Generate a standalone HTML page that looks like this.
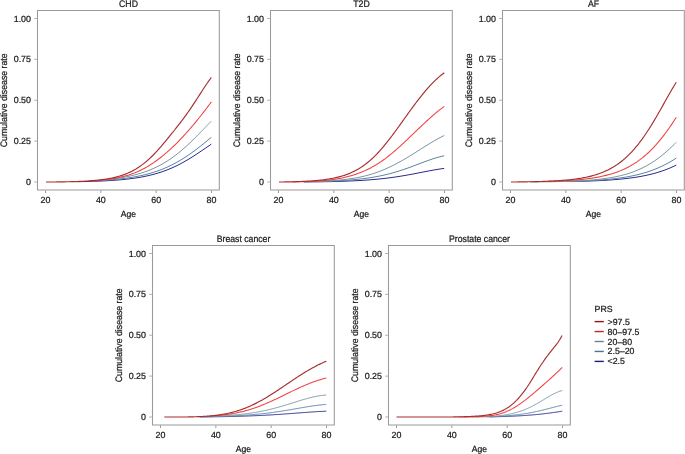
<!DOCTYPE html><html><head><meta charset="utf-8"><style>html,body{margin:0;padding:0;background:#fff;}body{width:685px;height:454px;overflow:hidden;}svg{display:block;will-change:transform;}text{font-family:"Liberation Sans",sans-serif;text-rendering:geometricPrecision;stroke:#1a1a1a;stroke-width:0.22px;}</style></head><body>
<svg width="685" height="454" viewBox="0 0 685 454">
<polyline fill="none" stroke="#2a2a8e" stroke-width="1.0" stroke-linejoin="round" stroke-linecap="butt" points="76.00,181.73 77.00,181.72 78.00,181.70 79.00,181.68 80.00,181.66 81.00,181.64 82.00,181.62 83.00,181.60 84.00,181.57 85.00,181.55 86.00,181.52 87.00,181.50 88.00,181.47 89.00,181.44 90.00,181.42 91.00,181.39 92.00,181.36 93.00,181.32 94.00,181.29 95.00,181.26 96.00,181.22 97.00,181.18 98.00,181.14 99.00,181.10 100.00,181.06 101.00,181.02 102.00,180.97 103.00,180.93 104.00,180.88 105.00,180.83 106.00,180.78 107.00,180.72 108.00,180.67 109.00,180.61 110.00,180.55 111.00,180.49 112.00,180.42 113.00,180.36 114.00,180.29 115.00,180.22 116.00,180.14 117.00,180.06 118.00,179.98 119.00,179.90 120.00,179.82 121.00,179.73 122.00,179.63 123.00,179.54 124.00,179.44 125.00,179.34 126.00,179.23 127.00,179.12 128.00,179.01 129.00,178.89 130.00,178.77 131.00,178.64 132.00,178.51 133.00,178.37 134.00,178.23 135.00,178.09 136.00,177.94 137.00,177.78 138.00,177.62 139.00,177.46 140.00,177.29 141.00,177.11 142.00,176.92 143.00,176.74 144.00,176.54 145.00,176.34 146.00,176.13 147.00,175.91 148.00,175.69 149.00,175.46 150.00,175.23 151.00,174.98 152.00,174.73 153.00,174.47 154.00,174.21 155.00,173.93 156.00,173.65 157.00,173.36 158.00,173.06 159.00,172.75 160.00,172.43 161.00,172.10 162.00,171.77 163.00,171.42 164.00,171.07 165.00,170.70 166.00,170.33 167.00,169.95 168.00,169.55 169.00,169.15 170.00,168.74 171.00,168.31 172.00,167.88 173.00,167.43 174.00,166.98 175.00,166.52 176.00,166.04 177.00,165.56 178.00,165.06 179.00,164.55 180.00,164.04 181.00,163.51 182.00,162.98 183.00,162.43 184.00,161.88 185.00,161.31 186.00,160.74 187.00,160.15 188.00,159.56 189.00,158.96 190.00,158.35 191.00,157.73 192.00,157.11 193.00,156.47 194.00,155.83 195.00,155.19 196.00,154.53 197.00,153.87 198.00,153.21 199.00,152.54 200.00,151.87 201.00,151.19 202.00,150.51 203.00,149.83 204.00,149.15 205.00,148.47 206.00,147.78 207.00,147.10 208.00,146.42 209.00,145.74 210.00,145.07 211.00,144.40 211.30,144.19"/>
<polyline fill="none" stroke="#5a84a2" stroke-width="1.0" stroke-linejoin="round" stroke-linecap="butt" points="92.00,181.01 93.00,180.96 94.00,180.92 95.00,180.87 96.00,180.82 97.00,180.77 98.00,180.72 99.00,180.66 100.00,180.61 101.00,180.55 102.00,180.49 103.00,180.43 104.00,180.36 105.00,180.29 106.00,180.23 107.00,180.15 108.00,180.08 109.00,180.00 110.00,179.92 111.00,179.84 112.00,179.76 113.00,179.67 114.00,179.58 115.00,179.49 116.00,179.39 117.00,179.29 118.00,179.19 119.00,179.08 120.00,178.97 121.00,178.86 122.00,178.74 123.00,178.62 124.00,178.49 125.00,178.36 126.00,178.23 127.00,178.09 128.00,177.94 129.00,177.80 130.00,177.64 131.00,177.49 132.00,177.32 133.00,177.15 134.00,176.98 135.00,176.80 136.00,176.62 137.00,176.43 138.00,176.23 139.00,176.03 140.00,175.82 141.00,175.60 142.00,175.38 143.00,175.15 144.00,174.92 145.00,174.68 146.00,174.43 147.00,174.17 148.00,173.90 149.00,173.63 150.00,173.35 151.00,173.06 152.00,172.76 153.00,172.46 154.00,172.14 155.00,171.82 156.00,171.49 157.00,171.15 158.00,170.80 159.00,170.44 160.00,170.07 161.00,169.69 162.00,169.30 163.00,168.90 164.00,168.49 165.00,168.07 166.00,167.64 167.00,167.20 168.00,166.74 169.00,166.28 170.00,165.81 171.00,165.32 172.00,164.83 173.00,164.32 174.00,163.80 175.00,163.27 176.00,162.73 177.00,162.18 178.00,161.62 179.00,161.04 180.00,160.46 181.00,159.86 182.00,159.25 183.00,158.63 184.00,158.00 185.00,157.36 186.00,156.70 187.00,156.04 188.00,155.36 189.00,154.68 190.00,153.98 191.00,153.27 192.00,152.56 193.00,151.83 194.00,151.10 195.00,150.35 196.00,149.60 197.00,148.84 198.00,148.07 199.00,147.29 200.00,146.51 201.00,145.72 202.00,144.92 203.00,144.12 204.00,143.31 205.00,142.49 206.00,141.68 207.00,140.86 208.00,140.03 209.00,139.21 210.00,138.38 211.00,137.55 211.30,137.30"/>
<polyline fill="none" stroke="#7a97a3" stroke-width="1.0" stroke-linejoin="round" stroke-linecap="butt" points="110.00,179.24 111.00,179.13 112.00,179.01 113.00,178.89 114.00,178.77 115.00,178.64 116.00,178.50 117.00,178.36 118.00,178.22 119.00,178.07 120.00,177.92 121.00,177.76 122.00,177.59 123.00,177.42 124.00,177.24 125.00,177.06 126.00,176.87 127.00,176.68 128.00,176.48 129.00,176.27 130.00,176.05 131.00,175.83 132.00,175.60 133.00,175.36 134.00,175.12 135.00,174.86 136.00,174.60 137.00,174.33 138.00,174.05 139.00,173.76 140.00,173.46 141.00,173.16 142.00,172.84 143.00,172.52 144.00,172.18 145.00,171.83 146.00,171.48 147.00,171.11 148.00,170.73 149.00,170.34 150.00,169.94 151.00,169.53 152.00,169.10 153.00,168.67 154.00,168.22 155.00,167.76 156.00,167.28 157.00,166.80 158.00,166.30 159.00,165.78 160.00,165.26 161.00,164.71 162.00,164.16 163.00,163.59 164.00,163.01 165.00,162.41 166.00,161.80 167.00,161.18 168.00,160.53 169.00,159.88 170.00,159.21 171.00,158.53 172.00,157.83 173.00,157.11 174.00,156.38 175.00,155.64 176.00,154.88 177.00,154.11 178.00,153.32 179.00,152.52 180.00,151.70 181.00,150.87 182.00,150.02 183.00,149.16 184.00,148.29 185.00,147.41 186.00,146.51 187.00,145.60 188.00,144.67 189.00,143.74 190.00,142.79 191.00,141.83 192.00,140.87 193.00,139.89 194.00,138.90 195.00,137.90 196.00,136.90 197.00,135.89 198.00,134.87 199.00,133.85 200.00,132.82 201.00,131.79 202.00,130.75 203.00,129.71 204.00,128.67 205.00,127.63 206.00,126.59 207.00,125.55 208.00,124.51 209.00,123.48 210.00,122.45 211.00,121.43 211.30,121.12"/>
<polyline fill="none" stroke="#f04040" stroke-width="1.05" stroke-linejoin="round" stroke-linecap="butt" points="89.00,181.05 90.00,181.00 91.00,180.94 92.00,180.88 93.00,180.81 94.00,180.74 95.00,180.67 96.00,180.60 97.00,180.52 98.00,180.44 99.00,180.35 100.00,180.26 101.00,180.17 102.00,180.07 103.00,179.96 104.00,179.86 105.00,179.74 106.00,179.62 107.00,179.50 108.00,179.37 109.00,179.24 110.00,179.10 111.00,178.95 112.00,178.79 113.00,178.63 114.00,178.46 115.00,178.29 116.00,178.11 117.00,177.91 118.00,177.71 119.00,177.51 120.00,177.29 121.00,177.06 122.00,176.83 123.00,176.58 124.00,176.32 125.00,176.06 126.00,175.78 127.00,175.49 128.00,175.19 129.00,174.88 130.00,174.55 131.00,174.22 132.00,173.87 133.00,173.50 134.00,173.13 135.00,172.74 136.00,172.33 137.00,171.91 138.00,171.48 139.00,171.03 140.00,170.57 141.00,170.09 142.00,169.59 143.00,169.08 144.00,168.56 145.00,168.02 146.00,167.46 147.00,166.88 148.00,166.30 149.00,165.69 150.00,165.07 151.00,164.43 152.00,163.78 153.00,163.11 154.00,162.42 155.00,161.72 156.00,161.01 157.00,160.28 158.00,159.54 159.00,158.78 160.00,158.01 161.00,157.22 162.00,156.42 163.00,155.61 164.00,154.78 165.00,153.94 166.00,153.08 167.00,152.21 168.00,151.33 169.00,150.43 170.00,149.52 171.00,148.60 172.00,147.67 173.00,146.72 174.00,145.75 175.00,144.78 176.00,143.79 177.00,142.79 178.00,141.78 179.00,140.76 180.00,139.72 181.00,138.68 182.00,137.62 183.00,136.55 184.00,135.47 185.00,134.38 186.00,133.27 187.00,132.16 188.00,131.03 189.00,129.90 190.00,128.75 191.00,127.60 192.00,126.43 193.00,125.25 194.00,124.07 195.00,122.87 196.00,121.66 197.00,120.44 198.00,119.22 199.00,117.98 200.00,116.73 201.00,115.47 202.00,114.21 203.00,112.93 204.00,111.64 205.00,110.34 206.00,109.04 207.00,107.72 208.00,106.39 209.00,105.05 210.00,103.70 211.00,102.34 211.30,101.93"/>
<polyline fill="none" stroke="#a82e2e" stroke-width="1.15" stroke-linejoin="round" stroke-linecap="butt" points="46.00,182.00 47.00,182.00 48.00,182.00 49.00,182.00 50.00,182.00 51.00,181.99 52.00,181.99 53.00,181.98 54.00,181.97 55.00,181.96 56.00,181.95 57.00,181.94 58.00,181.93 59.00,181.92 60.00,181.90 61.00,181.89 62.00,181.87 63.00,181.86 64.00,181.84 65.00,181.82 66.00,181.80 67.00,181.78 68.00,181.76 69.00,181.74 70.00,181.71 71.00,181.69 72.00,181.66 73.00,181.63 74.00,181.60 75.00,181.57 76.00,181.54 77.00,181.50 78.00,181.47 79.00,181.43 80.00,181.39 81.00,181.34 82.00,181.30 83.00,181.25 84.00,181.20 85.00,181.15 86.00,181.09 87.00,181.03 88.00,180.97 89.00,180.91 90.00,180.84 91.00,180.77 92.00,180.69 93.00,180.61 94.00,180.53 95.00,180.44 96.00,180.35 97.00,180.25 98.00,180.14 99.00,180.04 100.00,179.92 101.00,179.80 102.00,179.68 103.00,179.55 104.00,179.41 105.00,179.26 106.00,179.11 107.00,178.95 108.00,178.78 109.00,178.60 110.00,178.42 111.00,178.22 112.00,178.02 113.00,177.80 114.00,177.58 115.00,177.34 116.00,177.09 117.00,176.83 118.00,176.56 119.00,176.27 120.00,175.97 121.00,175.66 122.00,175.33 123.00,174.99 124.00,174.63 125.00,174.26 126.00,173.87 127.00,173.46 128.00,173.04 129.00,172.59 130.00,172.13 131.00,171.65 132.00,171.15 133.00,170.62 134.00,170.08 135.00,169.51 136.00,168.93 137.00,168.32 138.00,167.68 139.00,167.03 140.00,166.35 141.00,165.64 142.00,164.91 143.00,164.16 144.00,163.38 145.00,162.58 146.00,161.75 147.00,160.90 148.00,160.02 149.00,159.12 150.00,158.19 151.00,157.24 152.00,156.26 153.00,155.26 154.00,154.24 155.00,153.20 156.00,152.13 157.00,151.04 158.00,149.94 159.00,148.82 160.00,147.68 161.00,146.52 162.00,145.35 163.00,144.17 164.00,142.98 165.00,141.78 166.00,140.58 167.00,139.37 168.00,138.15 169.00,136.93 170.00,135.70 171.00,134.47 172.00,133.23 173.00,131.99 174.00,130.74 175.00,129.49 176.00,128.23 177.00,126.96 178.00,125.68 179.00,124.40 180.00,123.11 181.00,121.80 182.00,120.49 183.00,119.16 184.00,117.82 185.00,116.46 186.00,115.08 187.00,113.69 188.00,112.27 189.00,110.83 190.00,109.37 191.00,107.90 192.00,106.41 193.00,104.90 194.00,103.39 195.00,101.86 196.00,100.32 197.00,98.77 198.00,97.22 199.00,95.67 200.00,94.12 201.00,92.57 202.00,91.03 203.00,89.49 204.00,87.96 205.00,86.45 206.00,84.96 207.00,83.49 208.00,82.04 209.00,80.63 210.00,79.24 211.00,77.89 211.30,77.49"/>
<path d="M37.5,10.5H219.3V190H37.5Z" fill="none" stroke="#9a9a9a" stroke-width="1.05"/>
<line x1="45.50" y1="190.5" x2="45.50" y2="193" stroke="#8c8c8c" stroke-width="0.9"/>
<text x="45.50" y="202.7" font-size="8.9" text-anchor="middle" fill="#1a1a1a">20</text>
<line x1="100.83" y1="190.5" x2="100.83" y2="193" stroke="#8c8c8c" stroke-width="0.9"/>
<text x="100.83" y="202.7" font-size="8.9" text-anchor="middle" fill="#1a1a1a">40</text>
<line x1="156.17" y1="190.5" x2="156.17" y2="193" stroke="#8c8c8c" stroke-width="0.9"/>
<text x="156.17" y="202.7" font-size="8.9" text-anchor="middle" fill="#1a1a1a">60</text>
<line x1="211.50" y1="190.5" x2="211.50" y2="193" stroke="#8c8c8c" stroke-width="0.9"/>
<text x="211.50" y="202.7" font-size="8.9" text-anchor="middle" fill="#1a1a1a">80</text>
<line x1="34.2" y1="182.00" x2="37.5" y2="182.00" stroke="#a8a8a8" stroke-width="0.9"/>
<text x="31" y="185.00" font-size="8.9" text-anchor="end" fill="#1a1a1a">0</text>
<line x1="34.2" y1="141.12" x2="37.5" y2="141.12" stroke="#a8a8a8" stroke-width="0.9"/>
<text x="31" y="144.12" font-size="8.9" text-anchor="end" fill="#1a1a1a">0.25</text>
<line x1="34.2" y1="100.25" x2="37.5" y2="100.25" stroke="#a8a8a8" stroke-width="0.9"/>
<text x="31" y="103.25" font-size="8.9" text-anchor="end" fill="#1a1a1a">0.50</text>
<line x1="34.2" y1="59.38" x2="37.5" y2="59.38" stroke="#a8a8a8" stroke-width="0.9"/>
<text x="31" y="62.38" font-size="8.9" text-anchor="end" fill="#1a1a1a">0.75</text>
<line x1="34.2" y1="18.50" x2="37.5" y2="18.50" stroke="#a8a8a8" stroke-width="0.9"/>
<text x="31" y="21.50" font-size="8.9" text-anchor="end" fill="#1a1a1a">1.00</text>
<text transform="translate(128.50,6.7) scale(1,1.1)" x="0" y="0" font-size="8.7" text-anchor="middle" fill="#1a1a1a">CHD</text>
<text transform="translate(128.50,216.5) scale(1,1.04)" x="0" y="0" font-size="8.6" text-anchor="middle" fill="#1a1a1a">Age</text>
<text transform="translate(6.80,100.30) rotate(-90) scale(1,1.08)" x="0" y="0" font-size="8.75" text-anchor="middle" fill="#1a1a1a">Cumulative disease rate</text>
<polyline fill="none" stroke="#2a2a8e" stroke-width="1.0" stroke-linejoin="round" stroke-linecap="butt" points="304.00,181.95 305.00,181.94 306.00,181.94 307.00,181.93 308.00,181.92 309.00,181.91 310.00,181.90 311.00,181.89 312.00,181.88 313.00,181.87 314.00,181.86 315.00,181.85 316.00,181.84 317.00,181.82 318.00,181.81 319.00,181.80 320.00,181.78 321.00,181.77 322.00,181.75 323.00,181.74 324.00,181.72 325.00,181.70 326.00,181.69 327.00,181.67 328.00,181.65 329.00,181.63 330.00,181.61 331.00,181.59 332.00,181.56 333.00,181.54 334.00,181.52 335.00,181.49 336.00,181.47 337.00,181.44 338.00,181.41 339.00,181.38 340.00,181.35 341.00,181.32 342.00,181.29 343.00,181.26 344.00,181.22 345.00,181.19 346.00,181.15 347.00,181.11 348.00,181.08 349.00,181.04 350.00,180.99 351.00,180.95 352.00,180.91 353.00,180.86 354.00,180.81 355.00,180.76 356.00,180.71 357.00,180.66 358.00,180.61 359.00,180.55 360.00,180.50 361.00,180.44 362.00,180.38 363.00,180.31 364.00,180.25 365.00,180.18 366.00,180.11 367.00,180.04 368.00,179.97 369.00,179.89 370.00,179.82 371.00,179.74 372.00,179.66 373.00,179.57 374.00,179.49 375.00,179.40 376.00,179.31 377.00,179.21 378.00,179.11 379.00,179.02 380.00,178.91 381.00,178.81 382.00,178.70 383.00,178.59 384.00,178.48 385.00,178.36 386.00,178.25 387.00,178.12 388.00,178.00 389.00,177.87 390.00,177.74 391.00,177.61 392.00,177.48 393.00,177.34 394.00,177.20 395.00,177.05 396.00,176.90 397.00,176.75 398.00,176.60 399.00,176.44 400.00,176.29 401.00,176.12 402.00,175.96 403.00,175.79 404.00,175.62 405.00,175.45 406.00,175.28 407.00,175.10 408.00,174.92 409.00,174.74 410.00,174.56 411.00,174.37 412.00,174.18 413.00,174.00 414.00,173.81 415.00,173.61 416.00,173.42 417.00,173.23 418.00,173.03 419.00,172.84 420.00,172.64 421.00,172.44 422.00,172.25 423.00,172.05 424.00,171.86 425.00,171.66 426.00,171.47 427.00,171.27 428.00,171.08 429.00,170.89 430.00,170.70 431.00,170.51 432.00,170.33 433.00,170.15 434.00,169.97 435.00,169.80 436.00,169.63 437.00,169.46 438.00,169.30 439.00,169.14 440.00,168.99 441.00,168.84 442.00,168.70 443.00,168.56 444.00,168.43 444.20,168.40"/>
<polyline fill="none" stroke="#5a84a2" stroke-width="1.0" stroke-linejoin="round" stroke-linecap="butt" points="315.00,181.61 316.00,181.59 317.00,181.56 318.00,181.54 319.00,181.51 320.00,181.49 321.00,181.46 322.00,181.43 323.00,181.40 324.00,181.37 325.00,181.34 326.00,181.30 327.00,181.27 328.00,181.23 329.00,181.20 330.00,181.16 331.00,181.12 332.00,181.08 333.00,181.03 334.00,180.99 335.00,180.94 336.00,180.89 337.00,180.84 338.00,180.79 339.00,180.74 340.00,180.68 341.00,180.63 342.00,180.57 343.00,180.50 344.00,180.44 345.00,180.37 346.00,180.31 347.00,180.23 348.00,180.16 349.00,180.08 350.00,180.01 351.00,179.92 352.00,179.84 353.00,179.75 354.00,179.66 355.00,179.57 356.00,179.47 357.00,179.37 358.00,179.27 359.00,179.16 360.00,179.05 361.00,178.93 362.00,178.82 363.00,178.70 364.00,178.57 365.00,178.44 366.00,178.31 367.00,178.17 368.00,178.02 369.00,177.88 370.00,177.73 371.00,177.57 372.00,177.41 373.00,177.24 374.00,177.07 375.00,176.90 376.00,176.71 377.00,176.53 378.00,176.34 379.00,176.14 380.00,175.94 381.00,175.73 382.00,175.52 383.00,175.30 384.00,175.07 385.00,174.84 386.00,174.61 387.00,174.36 388.00,174.12 389.00,173.86 390.00,173.60 391.00,173.34 392.00,173.07 393.00,172.79 394.00,172.51 395.00,172.22 396.00,171.92 397.00,171.62 398.00,171.32 399.00,171.00 400.00,170.69 401.00,170.36 402.00,170.04 403.00,169.70 404.00,169.37 405.00,169.02 406.00,168.68 407.00,168.33 408.00,167.97 409.00,167.61 410.00,167.25 411.00,166.88 412.00,166.51 413.00,166.14 414.00,165.77 415.00,165.39 416.00,165.02 417.00,164.64 418.00,164.26 419.00,163.88 420.00,163.50 421.00,163.12 422.00,162.74 423.00,162.36 424.00,161.99 425.00,161.62 426.00,161.25 427.00,160.88 428.00,160.52 429.00,160.17 430.00,159.82 431.00,159.48 432.00,159.14 433.00,158.81 434.00,158.49 435.00,158.17 436.00,157.87 437.00,157.58 438.00,157.29 439.00,157.02 440.00,156.76 441.00,156.51 442.00,156.28 443.00,156.06 444.00,155.85 444.20,155.81"/>
<polyline fill="none" stroke="#7a97a3" stroke-width="1.0" stroke-linejoin="round" stroke-linecap="butt" points="308.00,181.67 309.00,181.65 310.00,181.62 311.00,181.60 312.00,181.57 313.00,181.54 314.00,181.51 315.00,181.48 316.00,181.44 317.00,181.41 318.00,181.37 319.00,181.33 320.00,181.29 321.00,181.25 322.00,181.21 323.00,181.16 324.00,181.12 325.00,181.07 326.00,181.01 327.00,180.96 328.00,180.90 329.00,180.85 330.00,180.78 331.00,180.72 332.00,180.65 333.00,180.58 334.00,180.51 335.00,180.43 336.00,180.35 337.00,180.27 338.00,180.19 339.00,180.10 340.00,180.00 341.00,179.90 342.00,179.80 343.00,179.70 344.00,179.59 345.00,179.47 346.00,179.35 347.00,179.23 348.00,179.10 349.00,178.96 350.00,178.82 351.00,178.68 352.00,178.52 353.00,178.37 354.00,178.20 355.00,178.03 356.00,177.86 357.00,177.67 358.00,177.48 359.00,177.29 360.00,177.08 361.00,176.87 362.00,176.65 363.00,176.42 364.00,176.19 365.00,175.94 366.00,175.69 367.00,175.43 368.00,175.16 369.00,174.88 370.00,174.60 371.00,174.30 372.00,174.00 373.00,173.68 374.00,173.36 375.00,173.03 376.00,172.68 377.00,172.33 378.00,171.97 379.00,171.60 380.00,171.22 381.00,170.83 382.00,170.43 383.00,170.02 384.00,169.60 385.00,169.17 386.00,168.73 387.00,168.29 388.00,167.83 389.00,167.37 390.00,166.90 391.00,166.42 392.00,165.93 393.00,165.43 394.00,164.93 395.00,164.41 396.00,163.89 397.00,163.36 398.00,162.82 399.00,162.28 400.00,161.73 401.00,161.17 402.00,160.60 403.00,160.03 404.00,159.45 405.00,158.86 406.00,158.27 407.00,157.68 408.00,157.08 409.00,156.47 410.00,155.86 411.00,155.24 412.00,154.63 413.00,154.00 414.00,153.38 415.00,152.75 416.00,152.12 417.00,151.49 418.00,150.86 419.00,150.23 420.00,149.59 421.00,148.96 422.00,148.33 423.00,147.70 424.00,147.07 425.00,146.44 426.00,145.81 427.00,145.19 428.00,144.57 429.00,143.96 430.00,143.35 431.00,142.75 432.00,142.15 433.00,141.56 434.00,140.97 435.00,140.39 436.00,139.83 437.00,139.26 438.00,138.71 439.00,138.17 440.00,137.64 441.00,137.12 442.00,136.61 443.00,136.11 444.00,135.62 444.20,135.53"/>
<polyline fill="none" stroke="#f04040" stroke-width="1.05" stroke-linejoin="round" stroke-linecap="butt" points="292.00,181.92 293.00,181.90 294.00,181.89 295.00,181.87 296.00,181.85 297.00,181.84 298.00,181.82 299.00,181.79 300.00,181.77 301.00,181.75 302.00,181.72 303.00,181.69 304.00,181.66 305.00,181.63 306.00,181.60 307.00,181.57 308.00,181.53 309.00,181.49 310.00,181.45 311.00,181.40 312.00,181.36 313.00,181.31 314.00,181.26 315.00,181.20 316.00,181.15 317.00,181.09 318.00,181.02 319.00,180.95 320.00,180.88 321.00,180.81 322.00,180.73 323.00,180.65 324.00,180.56 325.00,180.47 326.00,180.37 327.00,180.27 328.00,180.16 329.00,180.05 330.00,179.93 331.00,179.81 332.00,179.68 333.00,179.54 334.00,179.40 335.00,179.25 336.00,179.09 337.00,178.93 338.00,178.76 339.00,178.58 340.00,178.40 341.00,178.20 342.00,178.00 343.00,177.79 344.00,177.57 345.00,177.34 346.00,177.11 347.00,176.86 348.00,176.60 349.00,176.34 350.00,176.06 351.00,175.78 352.00,175.48 353.00,175.17 354.00,174.86 355.00,174.53 356.00,174.19 357.00,173.84 358.00,173.48 359.00,173.10 360.00,172.72 361.00,172.32 362.00,171.91 363.00,171.49 364.00,171.06 365.00,170.61 366.00,170.16 367.00,169.69 368.00,169.20 369.00,168.70 370.00,168.19 371.00,167.67 372.00,167.13 373.00,166.58 374.00,166.01 375.00,165.43 376.00,164.84 377.00,164.23 378.00,163.60 379.00,162.97 380.00,162.31 381.00,161.64 382.00,160.96 383.00,160.26 384.00,159.55 385.00,158.82 386.00,158.07 387.00,157.31 388.00,156.53 389.00,155.74 390.00,154.94 391.00,154.12 392.00,153.29 393.00,152.45 394.00,151.60 395.00,150.74 396.00,149.86 397.00,148.98 398.00,148.09 399.00,147.19 400.00,146.29 401.00,145.37 402.00,144.45 403.00,143.52 404.00,142.59 405.00,141.65 406.00,140.71 407.00,139.76 408.00,138.81 409.00,137.86 410.00,136.90 411.00,135.94 412.00,134.98 413.00,134.02 414.00,133.05 415.00,132.09 416.00,131.13 417.00,130.17 418.00,129.21 419.00,128.25 420.00,127.30 421.00,126.35 422.00,125.40 423.00,124.46 424.00,123.52 425.00,122.59 426.00,121.66 427.00,120.74 428.00,119.83 429.00,118.93 430.00,118.03 431.00,117.14 432.00,116.26 433.00,115.39 434.00,114.53 435.00,113.68 436.00,112.84 437.00,112.01 438.00,111.20 439.00,110.39 440.00,109.60 441.00,108.82 442.00,108.05 443.00,107.30 444.00,106.55 444.20,106.41"/>
<polyline fill="none" stroke="#a82e2e" stroke-width="1.15" stroke-linejoin="round" stroke-linecap="butt" points="279.00,182.00 280.00,182.00 281.00,182.00 282.00,181.99 283.00,181.97 284.00,181.96 285.00,181.94 286.00,181.92 287.00,181.90 288.00,181.88 289.00,181.86 290.00,181.83 291.00,181.81 292.00,181.78 293.00,181.75 294.00,181.73 295.00,181.70 296.00,181.66 297.00,181.63 298.00,181.60 299.00,181.56 300.00,181.52 301.00,181.48 302.00,181.44 303.00,181.39 304.00,181.35 305.00,181.30 306.00,181.25 307.00,181.19 308.00,181.14 309.00,181.08 310.00,181.01 311.00,180.95 312.00,180.88 313.00,180.80 314.00,180.73 315.00,180.65 316.00,180.56 317.00,180.47 318.00,180.38 319.00,180.28 320.00,180.18 321.00,180.07 322.00,179.96 323.00,179.84 324.00,179.71 325.00,179.58 326.00,179.44 327.00,179.30 328.00,179.15 329.00,178.99 330.00,178.82 331.00,178.64 332.00,178.46 333.00,178.27 334.00,178.06 335.00,177.85 336.00,177.63 337.00,177.40 338.00,177.15 339.00,176.90 340.00,176.63 341.00,176.35 342.00,176.06 343.00,175.76 344.00,175.44 345.00,175.10 346.00,174.75 347.00,174.39 348.00,174.01 349.00,173.61 350.00,173.20 351.00,172.77 352.00,172.32 353.00,171.85 354.00,171.36 355.00,170.86 356.00,170.33 357.00,169.78 358.00,169.21 359.00,168.62 360.00,168.01 361.00,167.37 362.00,166.71 363.00,166.03 364.00,165.32 365.00,164.59 366.00,163.83 367.00,163.05 368.00,162.24 369.00,161.40 370.00,160.54 371.00,159.66 372.00,158.75 373.00,157.81 374.00,156.85 375.00,155.86 376.00,154.85 377.00,153.81 378.00,152.75 379.00,151.66 380.00,150.55 381.00,149.42 382.00,148.27 383.00,147.09 384.00,145.90 385.00,144.69 386.00,143.46 387.00,142.21 388.00,140.95 389.00,139.67 390.00,138.38 391.00,137.07 392.00,135.75 393.00,134.42 394.00,133.08 395.00,131.73 396.00,130.36 397.00,128.99 398.00,127.62 399.00,126.24 400.00,124.85 401.00,123.45 402.00,122.06 403.00,120.66 404.00,119.26 405.00,117.86 406.00,116.46 407.00,115.07 408.00,113.67 409.00,112.28 410.00,110.90 411.00,109.52 412.00,108.15 413.00,106.79 414.00,105.43 415.00,104.09 416.00,102.75 417.00,101.43 418.00,100.12 419.00,98.83 420.00,97.55 421.00,96.28 422.00,95.03 423.00,93.80 424.00,92.59 425.00,91.39 426.00,90.21 427.00,89.06 428.00,87.92 429.00,86.81 430.00,85.71 431.00,84.64 432.00,83.59 433.00,82.57 434.00,81.57 435.00,80.59 436.00,79.64 437.00,78.71 438.00,77.81 439.00,76.93 440.00,76.08 441.00,75.25 442.00,74.45 443.00,73.68 444.00,72.93 444.30,72.71"/>
<path d="M270.5,10.5H452.3V190H270.5Z" fill="none" stroke="#9a9a9a" stroke-width="1.05"/>
<line x1="278.50" y1="190.5" x2="278.50" y2="193" stroke="#8c8c8c" stroke-width="0.9"/>
<text x="278.50" y="202.7" font-size="8.9" text-anchor="middle" fill="#1a1a1a">20</text>
<line x1="333.83" y1="190.5" x2="333.83" y2="193" stroke="#8c8c8c" stroke-width="0.9"/>
<text x="333.83" y="202.7" font-size="8.9" text-anchor="middle" fill="#1a1a1a">40</text>
<line x1="389.17" y1="190.5" x2="389.17" y2="193" stroke="#8c8c8c" stroke-width="0.9"/>
<text x="389.17" y="202.7" font-size="8.9" text-anchor="middle" fill="#1a1a1a">60</text>
<line x1="444.50" y1="190.5" x2="444.50" y2="193" stroke="#8c8c8c" stroke-width="0.9"/>
<text x="444.50" y="202.7" font-size="8.9" text-anchor="middle" fill="#1a1a1a">80</text>
<line x1="267.2" y1="182.00" x2="270.5" y2="182.00" stroke="#a8a8a8" stroke-width="0.9"/>
<text x="264" y="185.00" font-size="8.9" text-anchor="end" fill="#1a1a1a">0</text>
<line x1="267.2" y1="141.12" x2="270.5" y2="141.12" stroke="#a8a8a8" stroke-width="0.9"/>
<text x="264" y="144.12" font-size="8.9" text-anchor="end" fill="#1a1a1a">0.25</text>
<line x1="267.2" y1="100.25" x2="270.5" y2="100.25" stroke="#a8a8a8" stroke-width="0.9"/>
<text x="264" y="103.25" font-size="8.9" text-anchor="end" fill="#1a1a1a">0.50</text>
<line x1="267.2" y1="59.38" x2="270.5" y2="59.38" stroke="#a8a8a8" stroke-width="0.9"/>
<text x="264" y="62.38" font-size="8.9" text-anchor="end" fill="#1a1a1a">0.75</text>
<line x1="267.2" y1="18.50" x2="270.5" y2="18.50" stroke="#a8a8a8" stroke-width="0.9"/>
<text x="264" y="21.50" font-size="8.9" text-anchor="end" fill="#1a1a1a">1.00</text>
<text transform="translate(361.50,6.7) scale(1,1.1)" x="0" y="0" font-size="8.7" text-anchor="middle" fill="#1a1a1a">T2D</text>
<text transform="translate(361.50,216.5) scale(1,1.04)" x="0" y="0" font-size="8.6" text-anchor="middle" fill="#1a1a1a">Age</text>
<text transform="translate(239.80,100.30) rotate(-90) scale(1,1.08)" x="0" y="0" font-size="8.75" text-anchor="middle" fill="#1a1a1a">Cumulative disease rate</text>
<polyline fill="none" stroke="#2a2a8e" stroke-width="1.0" stroke-linejoin="round" stroke-linecap="butt" points="569.00,181.57 570.00,181.56 571.00,181.54 572.00,181.52 573.00,181.49 574.00,181.47 575.00,181.45 576.00,181.43 577.00,181.40 578.00,181.38 579.00,181.35 580.00,181.33 581.00,181.30 582.00,181.27 583.00,181.24 584.00,181.21 585.00,181.18 586.00,181.15 587.00,181.12 588.00,181.08 589.00,181.05 590.00,181.01 591.00,180.97 592.00,180.94 593.00,180.90 594.00,180.86 595.00,180.81 596.00,180.77 597.00,180.72 598.00,180.68 599.00,180.63 600.00,180.58 601.00,180.53 602.00,180.48 603.00,180.42 604.00,180.37 605.00,180.31 606.00,180.25 607.00,180.19 608.00,180.12 609.00,180.06 610.00,179.99 611.00,179.92 612.00,179.84 613.00,179.77 614.00,179.69 615.00,179.61 616.00,179.53 617.00,179.45 618.00,179.36 619.00,179.27 620.00,179.17 621.00,179.08 622.00,178.98 623.00,178.88 624.00,178.77 625.00,178.66 626.00,178.55 627.00,178.43 628.00,178.31 629.00,178.19 630.00,178.06 631.00,177.93 632.00,177.79 633.00,177.65 634.00,177.51 635.00,177.36 636.00,177.21 637.00,177.05 638.00,176.88 639.00,176.72 640.00,176.54 641.00,176.36 642.00,176.18 643.00,175.99 644.00,175.79 645.00,175.59 646.00,175.38 647.00,175.16 648.00,174.94 649.00,174.71 650.00,174.48 651.00,174.23 652.00,173.98 653.00,173.73 654.00,173.46 655.00,173.19 656.00,172.91 657.00,172.62 658.00,172.32 659.00,172.01 660.00,171.69 661.00,171.37 662.00,171.03 663.00,170.69 664.00,170.33 665.00,169.97 666.00,169.59 667.00,169.21 668.00,168.81 669.00,168.40 670.00,167.99 671.00,167.55 672.00,167.11 673.00,166.66 674.00,166.19 675.00,165.71 676.00,165.22 676.30,165.07"/>
<polyline fill="none" stroke="#5a84a2" stroke-width="1.0" stroke-linejoin="round" stroke-linecap="butt" points="565.00,181.52 566.00,181.50 567.00,181.48 568.00,181.45 569.00,181.43 570.00,181.40 571.00,181.37 572.00,181.35 573.00,181.32 574.00,181.29 575.00,181.26 576.00,181.22 577.00,181.19 578.00,181.16 579.00,181.12 580.00,181.09 581.00,181.05 582.00,181.01 583.00,180.97 584.00,180.93 585.00,180.88 586.00,180.84 587.00,180.79 588.00,180.75 589.00,180.70 590.00,180.64 591.00,180.59 592.00,180.54 593.00,180.48 594.00,180.42 595.00,180.36 596.00,180.30 597.00,180.23 598.00,180.17 599.00,180.10 600.00,180.03 601.00,179.95 602.00,179.88 603.00,179.80 604.00,179.72 605.00,179.63 606.00,179.55 607.00,179.46 608.00,179.36 609.00,179.27 610.00,179.17 611.00,179.06 612.00,178.96 613.00,178.85 614.00,178.74 615.00,178.62 616.00,178.50 617.00,178.37 618.00,178.24 619.00,178.11 620.00,177.97 621.00,177.83 622.00,177.68 623.00,177.53 624.00,177.38 625.00,177.21 626.00,177.05 627.00,176.88 628.00,176.70 629.00,176.51 630.00,176.33 631.00,176.13 632.00,175.93 633.00,175.72 634.00,175.51 635.00,175.29 636.00,175.06 637.00,174.83 638.00,174.58 639.00,174.34 640.00,174.08 641.00,173.81 642.00,173.54 643.00,173.26 644.00,172.97 645.00,172.68 646.00,172.37 647.00,172.06 648.00,171.73 649.00,171.40 650.00,171.06 651.00,170.71 652.00,170.35 653.00,169.97 654.00,169.59 655.00,169.20 656.00,168.80 657.00,168.38 658.00,167.96 659.00,167.52 660.00,167.08 661.00,166.62 662.00,166.15 663.00,165.67 664.00,165.17 665.00,164.67 666.00,164.15 667.00,163.62 668.00,163.08 669.00,162.52 670.00,161.95 671.00,161.37 672.00,160.78 673.00,160.17 674.00,159.55 675.00,158.92 676.00,158.27 676.30,158.07"/>
<polyline fill="none" stroke="#7a97a3" stroke-width="1.0" stroke-linejoin="round" stroke-linecap="butt" points="530.00,181.95 531.00,181.94 532.00,181.94 533.00,181.93 534.00,181.92 535.00,181.91 536.00,181.91 537.00,181.90 538.00,181.89 539.00,181.88 540.00,181.87 541.00,181.86 542.00,181.84 543.00,181.83 544.00,181.82 545.00,181.81 546.00,181.79 547.00,181.78 548.00,181.76 549.00,181.75 550.00,181.73 551.00,181.71 552.00,181.70 553.00,181.68 554.00,181.66 555.00,181.64 556.00,181.62 557.00,181.59 558.00,181.57 559.00,181.55 560.00,181.52 561.00,181.50 562.00,181.47 563.00,181.44 564.00,181.41 565.00,181.39 566.00,181.35 567.00,181.32 568.00,181.29 569.00,181.25 570.00,181.22 571.00,181.18 572.00,181.14 573.00,181.10 574.00,181.06 575.00,181.01 576.00,180.97 577.00,180.92 578.00,180.87 579.00,180.82 580.00,180.77 581.00,180.71 582.00,180.66 583.00,180.60 584.00,180.53 585.00,180.47 586.00,180.40 587.00,180.33 588.00,180.26 589.00,180.19 590.00,180.11 591.00,180.03 592.00,179.95 593.00,179.86 594.00,179.77 595.00,179.68 596.00,179.58 597.00,179.48 598.00,179.38 599.00,179.27 600.00,179.15 601.00,179.04 602.00,178.92 603.00,178.79 604.00,178.66 605.00,178.53 606.00,178.38 607.00,178.24 608.00,178.09 609.00,177.93 610.00,177.77 611.00,177.60 612.00,177.43 613.00,177.25 614.00,177.06 615.00,176.86 616.00,176.66 617.00,176.45 618.00,176.24 619.00,176.01 620.00,175.78 621.00,175.54 622.00,175.29 623.00,175.04 624.00,174.77 625.00,174.49 626.00,174.21 627.00,173.91 628.00,173.61 629.00,173.30 630.00,172.97 631.00,172.63 632.00,172.29 633.00,171.93 634.00,171.56 635.00,171.17 636.00,170.78 637.00,170.37 638.00,169.95 639.00,169.52 640.00,169.07 641.00,168.61 642.00,168.14 643.00,167.65 644.00,167.14 645.00,166.63 646.00,166.09 647.00,165.55 648.00,164.98 649.00,164.40 650.00,163.81 651.00,163.20 652.00,162.57 653.00,161.93 654.00,161.27 655.00,160.59 656.00,159.90 657.00,159.19 658.00,158.46 659.00,157.71 660.00,156.95 661.00,156.17 662.00,155.38 663.00,154.56 664.00,153.73 665.00,152.89 666.00,152.02 667.00,151.14 668.00,150.25 669.00,149.33 670.00,148.41 671.00,147.46 672.00,146.50 673.00,145.53 674.00,144.54 675.00,143.54 676.00,142.52 676.30,142.22"/>
<polyline fill="none" stroke="#f04040" stroke-width="1.05" stroke-linejoin="round" stroke-linecap="butt" points="544.00,181.52 545.00,181.50 546.00,181.47 547.00,181.44 548.00,181.41 549.00,181.38 550.00,181.35 551.00,181.32 552.00,181.28 553.00,181.25 554.00,181.21 555.00,181.18 556.00,181.14 557.00,181.10 558.00,181.05 559.00,181.01 560.00,180.96 561.00,180.92 562.00,180.87 563.00,180.82 564.00,180.76 565.00,180.71 566.00,180.65 567.00,180.59 568.00,180.53 569.00,180.47 570.00,180.40 571.00,180.33 572.00,180.26 573.00,180.19 574.00,180.11 575.00,180.03 576.00,179.95 577.00,179.86 578.00,179.78 579.00,179.68 580.00,179.59 581.00,179.49 582.00,179.39 583.00,179.28 584.00,179.17 585.00,179.05 586.00,178.94 587.00,178.81 588.00,178.68 589.00,178.55 590.00,178.41 591.00,178.27 592.00,178.12 593.00,177.97 594.00,177.81 595.00,177.64 596.00,177.47 597.00,177.29 598.00,177.11 599.00,176.92 600.00,176.72 601.00,176.52 602.00,176.30 603.00,176.08 604.00,175.85 605.00,175.62 606.00,175.37 607.00,175.12 608.00,174.86 609.00,174.58 610.00,174.30 611.00,174.01 612.00,173.71 613.00,173.40 614.00,173.07 615.00,172.74 616.00,172.39 617.00,172.03 618.00,171.66 619.00,171.28 620.00,170.88 621.00,170.48 622.00,170.05 623.00,169.62 624.00,169.17 625.00,168.70 626.00,168.22 627.00,167.72 628.00,167.21 629.00,166.68 630.00,166.13 631.00,165.57 632.00,164.99 633.00,164.39 634.00,163.78 635.00,163.14 636.00,162.49 637.00,161.81 638.00,161.12 639.00,160.40 640.00,159.67 641.00,158.91 642.00,158.14 643.00,157.34 644.00,156.52 645.00,155.68 646.00,154.81 647.00,153.92 648.00,153.01 649.00,152.08 650.00,151.12 651.00,150.13 652.00,149.13 653.00,148.10 654.00,147.04 655.00,145.96 656.00,144.85 657.00,143.72 658.00,142.57 659.00,141.39 660.00,140.18 661.00,138.95 662.00,137.70 663.00,136.42 664.00,135.12 665.00,133.79 666.00,132.44 667.00,131.06 668.00,129.66 669.00,128.24 670.00,126.79 671.00,125.33 672.00,123.84 673.00,122.33 674.00,120.80 675.00,119.25 676.00,117.69 676.30,117.21"/>
<polyline fill="none" stroke="#a82e2e" stroke-width="1.15" stroke-linejoin="round" stroke-linecap="butt" points="511.00,182.00 512.00,182.00 513.00,181.99 514.00,181.98 515.00,181.97 516.00,181.96 517.00,181.95 518.00,181.94 519.00,181.93 520.00,181.92 521.00,181.91 522.00,181.89 523.00,181.88 524.00,181.86 525.00,181.85 526.00,181.83 527.00,181.82 528.00,181.80 529.00,181.78 530.00,181.76 531.00,181.74 532.00,181.72 533.00,181.70 534.00,181.68 535.00,181.65 536.00,181.63 537.00,181.60 538.00,181.58 539.00,181.55 540.00,181.52 541.00,181.49 542.00,181.46 543.00,181.42 544.00,181.39 545.00,181.35 546.00,181.31 547.00,181.27 548.00,181.23 549.00,181.19 550.00,181.14 551.00,181.10 552.00,181.05 553.00,181.00 554.00,180.94 555.00,180.89 556.00,180.83 557.00,180.77 558.00,180.71 559.00,180.64 560.00,180.57 561.00,180.50 562.00,180.43 563.00,180.35 564.00,180.27 565.00,180.18 566.00,180.09 567.00,180.00 568.00,179.90 569.00,179.80 570.00,179.70 571.00,179.59 572.00,179.47 573.00,179.36 574.00,179.23 575.00,179.10 576.00,178.97 577.00,178.83 578.00,178.68 579.00,178.53 580.00,178.37 581.00,178.20 582.00,178.03 583.00,177.84 584.00,177.66 585.00,177.46 586.00,177.25 587.00,177.04 588.00,176.82 589.00,176.59 590.00,176.35 591.00,176.10 592.00,175.83 593.00,175.56 594.00,175.28 595.00,174.98 596.00,174.68 597.00,174.36 598.00,174.03 599.00,173.68 600.00,173.32 601.00,172.95 602.00,172.56 603.00,172.16 604.00,171.74 605.00,171.30 606.00,170.85 607.00,170.38 608.00,169.90 609.00,169.39 610.00,168.87 611.00,168.33 612.00,167.76 613.00,167.18 614.00,166.58 615.00,165.95 616.00,165.31 617.00,164.64 618.00,163.94 619.00,163.23 620.00,162.49 621.00,161.72 622.00,160.93 623.00,160.12 624.00,159.27 625.00,158.41 626.00,157.51 627.00,156.59 628.00,155.64 629.00,154.66 630.00,153.65 631.00,152.62 632.00,151.55 633.00,150.46 634.00,149.33 635.00,148.18 636.00,146.99 637.00,145.78 638.00,144.54 639.00,143.26 640.00,141.96 641.00,140.63 642.00,139.27 643.00,137.88 644.00,136.46 645.00,135.01 646.00,133.54 647.00,132.03 648.00,130.50 649.00,128.95 650.00,127.37 651.00,125.77 652.00,124.14 653.00,122.49 654.00,120.83 655.00,119.14 656.00,117.43 657.00,115.71 658.00,113.98 659.00,112.23 660.00,110.47 661.00,108.70 662.00,106.93 663.00,105.14 664.00,103.36 665.00,101.58 666.00,99.80 667.00,98.02 668.00,96.25 669.00,94.49 670.00,92.74 671.00,91.01 672.00,89.29 673.00,87.60 674.00,85.93 675.00,84.29 676.00,82.68 676.30,82.21"/>
<path d="M502.5,10.5H684.3V190H502.5Z" fill="none" stroke="#9a9a9a" stroke-width="1.05"/>
<line x1="510.50" y1="190.5" x2="510.50" y2="193" stroke="#8c8c8c" stroke-width="0.9"/>
<text x="510.50" y="202.7" font-size="8.9" text-anchor="middle" fill="#1a1a1a">20</text>
<line x1="565.83" y1="190.5" x2="565.83" y2="193" stroke="#8c8c8c" stroke-width="0.9"/>
<text x="565.83" y="202.7" font-size="8.9" text-anchor="middle" fill="#1a1a1a">40</text>
<line x1="621.17" y1="190.5" x2="621.17" y2="193" stroke="#8c8c8c" stroke-width="0.9"/>
<text x="621.17" y="202.7" font-size="8.9" text-anchor="middle" fill="#1a1a1a">60</text>
<line x1="676.50" y1="190.5" x2="676.50" y2="193" stroke="#8c8c8c" stroke-width="0.9"/>
<text x="676.50" y="202.7" font-size="8.9" text-anchor="middle" fill="#1a1a1a">80</text>
<line x1="499.2" y1="182.00" x2="502.5" y2="182.00" stroke="#a8a8a8" stroke-width="0.9"/>
<text x="496" y="185.00" font-size="8.9" text-anchor="end" fill="#1a1a1a">0</text>
<line x1="499.2" y1="141.12" x2="502.5" y2="141.12" stroke="#a8a8a8" stroke-width="0.9"/>
<text x="496" y="144.12" font-size="8.9" text-anchor="end" fill="#1a1a1a">0.25</text>
<line x1="499.2" y1="100.25" x2="502.5" y2="100.25" stroke="#a8a8a8" stroke-width="0.9"/>
<text x="496" y="103.25" font-size="8.9" text-anchor="end" fill="#1a1a1a">0.50</text>
<line x1="499.2" y1="59.38" x2="502.5" y2="59.38" stroke="#a8a8a8" stroke-width="0.9"/>
<text x="496" y="62.38" font-size="8.9" text-anchor="end" fill="#1a1a1a">0.75</text>
<line x1="499.2" y1="18.50" x2="502.5" y2="18.50" stroke="#a8a8a8" stroke-width="0.9"/>
<text x="496" y="21.50" font-size="8.9" text-anchor="end" fill="#1a1a1a">1.00</text>
<text transform="translate(593.50,6.7) scale(1,1.1)" x="0" y="0" font-size="8.7" text-anchor="middle" fill="#1a1a1a">AF</text>
<text transform="translate(593.50,216.5) scale(1,1.04)" x="0" y="0" font-size="8.6" text-anchor="middle" fill="#1a1a1a">Age</text>
<text transform="translate(471.80,100.30) rotate(-90) scale(1,1.08)" x="0" y="0" font-size="8.75" text-anchor="middle" fill="#1a1a1a">Cumulative disease rate</text>
<polyline fill="none" stroke="#2a2a8e" stroke-width="1.0" stroke-linejoin="round" stroke-linecap="butt" points="200.30,416.93 201.30,416.92 202.30,416.91 203.30,416.90 204.30,416.89 205.30,416.88 206.30,416.87 207.30,416.86 208.30,416.85 209.30,416.84 210.30,416.83 211.30,416.82 212.30,416.80 213.30,416.79 214.30,416.78 215.30,416.76 216.30,416.75 217.30,416.74 218.30,416.72 219.30,416.70 220.30,416.69 221.30,416.67 222.30,416.65 223.30,416.64 224.30,416.62 225.30,416.60 226.30,416.58 227.30,416.56 228.30,416.54 229.30,416.52 230.30,416.49 231.30,416.47 232.30,416.45 233.30,416.42 234.30,416.40 235.30,416.37 236.30,416.35 237.30,416.32 238.30,416.29 239.30,416.27 240.30,416.24 241.30,416.21 242.30,416.18 243.30,416.14 244.30,416.11 245.30,416.08 246.30,416.04 247.30,416.01 248.30,415.97 249.30,415.94 250.30,415.90 251.30,415.86 252.30,415.82 253.30,415.78 254.30,415.74 255.30,415.70 256.30,415.65 257.30,415.61 258.30,415.56 259.30,415.52 260.30,415.47 261.30,415.42 262.30,415.37 263.30,415.32 264.30,415.27 265.30,415.22 266.30,415.16 267.30,415.11 268.30,415.05 269.30,414.99 270.30,414.94 271.30,414.88 272.30,414.82 273.30,414.76 274.30,414.70 275.30,414.63 276.30,414.57 277.30,414.50 278.30,414.44 279.30,414.37 280.30,414.30 281.30,414.24 282.30,414.17 283.30,414.10 284.30,414.03 285.30,413.96 286.30,413.88 287.30,413.81 288.30,413.74 289.30,413.66 290.30,413.59 291.30,413.51 292.30,413.44 293.30,413.36 294.30,413.29 295.30,413.21 296.30,413.13 297.30,413.06 298.30,412.98 299.30,412.91 300.30,412.83 301.30,412.75 302.30,412.68 303.30,412.60 304.30,412.53 305.30,412.45 306.30,412.38 307.30,412.31 308.30,412.24 309.30,412.16 310.30,412.10 311.30,412.03 312.30,411.96 313.30,411.89 314.30,411.83 315.30,411.77 316.30,411.70 317.30,411.64 318.30,411.59 319.30,411.53 320.30,411.48 321.30,411.43 322.30,411.38 323.30,411.33 324.30,411.29 325.30,411.25 326.30,411.21"/>
<polyline fill="none" stroke="#5a84a2" stroke-width="1.0" stroke-linejoin="round" stroke-linecap="butt" points="199.30,416.80 200.30,416.79 201.30,416.77 202.30,416.76 203.30,416.74 204.30,416.73 205.30,416.71 206.30,416.69 207.30,416.67 208.30,416.65 209.30,416.63 210.30,416.61 211.30,416.59 212.30,416.57 213.30,416.54 214.30,416.52 215.30,416.49 216.30,416.47 217.30,416.44 218.30,416.41 219.30,416.38 220.30,416.35 221.30,416.32 222.30,416.29 223.30,416.26 224.30,416.22 225.30,416.19 226.30,416.15 227.30,416.11 228.30,416.07 229.30,416.03 230.30,415.99 231.30,415.95 232.30,415.90 233.30,415.86 234.30,415.81 235.30,415.76 236.30,415.71 237.30,415.66 238.30,415.60 239.30,415.55 240.30,415.49 241.30,415.43 242.30,415.37 243.30,415.30 244.30,415.24 245.30,415.17 246.30,415.10 247.30,415.03 248.30,414.96 249.30,414.88 250.30,414.81 251.30,414.73 252.30,414.65 253.30,414.56 254.30,414.48 255.30,414.39 256.30,414.30 257.30,414.20 258.30,414.11 259.30,414.01 260.30,413.91 261.30,413.80 262.30,413.70 263.30,413.59 264.30,413.48 265.30,413.37 266.30,413.25 267.30,413.13 268.30,413.01 269.30,412.88 270.30,412.76 271.30,412.63 272.30,412.50 273.30,412.36 274.30,412.22 275.30,412.08 276.30,411.94 277.30,411.80 278.30,411.65 279.30,411.50 280.30,411.35 281.30,411.19 282.30,411.04 283.30,410.88 284.30,410.72 285.30,410.56 286.30,410.39 287.30,410.23 288.30,410.06 289.30,409.89 290.30,409.72 291.30,409.55 292.30,409.37 293.30,409.20 294.30,409.03 295.30,408.85 296.30,408.68 297.30,408.50 298.30,408.33 299.30,408.15 300.30,407.98 301.30,407.80 302.30,407.63 303.30,407.46 304.30,407.29 305.30,407.12 306.30,406.95 307.30,406.79 308.30,406.62 309.30,406.46 310.30,406.31 311.30,406.15 312.30,406.00 313.30,405.86 314.30,405.71 315.30,405.58 316.30,405.44 317.30,405.32 318.30,405.19 319.30,405.08 320.30,404.97 321.30,404.86 322.30,404.76 323.30,404.67 324.30,404.58 325.30,404.51 326.30,404.43"/>
<polyline fill="none" stroke="#7a97a3" stroke-width="1.0" stroke-linejoin="round" stroke-linecap="butt" points="205.30,416.50 206.30,416.47 207.30,416.44 208.30,416.41 209.30,416.38 210.30,416.34 211.30,416.31 212.30,416.27 213.30,416.23 214.30,416.19 215.30,416.15 216.30,416.10 217.30,416.06 218.30,416.01 219.30,415.96 220.30,415.91 221.30,415.86 222.30,415.81 223.30,415.75 224.30,415.69 225.30,415.63 226.30,415.57 227.30,415.50 228.30,415.43 229.30,415.36 230.30,415.29 231.30,415.21 232.30,415.13 233.30,415.05 234.30,414.97 235.30,414.88 236.30,414.79 237.30,414.70 238.30,414.60 239.30,414.50 240.30,414.40 241.30,414.29 242.30,414.18 243.30,414.07 244.30,413.95 245.30,413.83 246.30,413.70 247.30,413.57 248.30,413.44 249.30,413.30 250.30,413.16 251.30,413.01 252.30,412.86 253.30,412.70 254.30,412.54 255.30,412.38 256.30,412.21 257.30,412.03 258.30,411.85 259.30,411.67 260.30,411.48 261.30,411.29 262.30,411.09 263.30,410.88 264.30,410.67 265.30,410.46 266.30,410.24 267.30,410.02 268.30,409.79 269.30,409.56 270.30,409.32 271.30,409.07 272.30,408.82 273.30,408.57 274.30,408.31 275.30,408.05 276.30,407.78 277.30,407.51 278.30,407.23 279.30,406.95 280.30,406.67 281.30,406.38 282.30,406.09 283.30,405.79 284.30,405.49 285.30,405.19 286.30,404.89 287.30,404.58 288.30,404.27 289.30,403.96 290.30,403.65 291.30,403.33 292.30,403.02 293.30,402.70 294.30,402.39 295.30,402.07 296.30,401.76 297.30,401.44 298.30,401.13 299.30,400.82 300.30,400.51 301.30,400.21 302.30,399.90 303.30,399.61 304.30,399.31 305.30,399.02 306.30,398.74 307.30,398.47 308.30,398.19 309.30,397.93 310.30,397.68 311.30,397.43 312.30,397.19 313.30,396.96 314.30,396.74 315.30,396.53 316.30,396.33 317.30,396.15 318.30,395.97 319.30,395.81 320.30,395.66 321.30,395.53 322.30,395.40 323.30,395.30 324.30,395.20 325.30,395.12 326.30,395.06"/>
<polyline fill="none" stroke="#f04040" stroke-width="1.05" stroke-linejoin="round" stroke-linecap="butt" points="210.30,416.08 211.30,416.02 212.30,415.96 213.30,415.89 214.30,415.81 215.30,415.74 216.30,415.65 217.30,415.57 218.30,415.48 219.30,415.39 220.30,415.29 221.30,415.19 222.30,415.08 223.30,414.97 224.30,414.85 225.30,414.73 226.30,414.60 227.30,414.46 228.30,414.32 229.30,414.17 230.30,414.02 231.30,413.86 232.30,413.70 233.30,413.52 234.30,413.34 235.30,413.16 236.30,412.96 237.30,412.76 238.30,412.55 239.30,412.34 240.30,412.11 241.30,411.88 242.30,411.64 243.30,411.39 244.30,411.14 245.30,410.87 246.30,410.60 247.30,410.32 248.30,410.03 249.30,409.73 250.30,409.42 251.30,409.10 252.30,408.78 253.30,408.45 254.30,408.11 255.30,407.76 256.30,407.40 257.30,407.04 258.30,406.66 259.30,406.28 260.30,405.90 261.30,405.50 262.30,405.10 263.30,404.70 264.30,404.28 265.30,403.86 266.30,403.44 267.30,403.01 268.30,402.57 269.30,402.13 270.30,401.68 271.30,401.23 272.30,400.77 273.30,400.31 274.30,399.84 275.30,399.37 276.30,398.90 277.30,398.42 278.30,397.94 279.30,397.46 280.30,396.98 281.30,396.49 282.30,396.00 283.30,395.52 284.30,395.03 285.30,394.53 286.30,394.04 287.30,393.55 288.30,393.06 289.30,392.57 290.30,392.08 291.30,391.60 292.30,391.11 293.30,390.63 294.30,390.15 295.30,389.67 296.30,389.20 297.30,388.73 298.30,388.26 299.30,387.80 300.30,387.34 301.30,386.89 302.30,386.44 303.30,386.00 304.30,385.56 305.30,385.13 306.30,384.71 307.30,384.30 308.30,383.89 309.30,383.49 310.30,383.09 311.30,382.71 312.30,382.33 313.30,381.96 314.30,381.60 315.30,381.25 316.30,380.91 317.30,380.57 318.30,380.25 319.30,379.94 320.30,379.63 321.30,379.34 322.30,379.05 323.30,378.78 324.30,378.52 325.30,378.26 326.30,378.02"/>
<polyline fill="none" stroke="#a82e2e" stroke-width="1.15" stroke-linejoin="round" stroke-linecap="butt" points="164.30,417.00 165.30,417.00 166.30,417.00 167.30,417.00 168.30,417.00 169.30,417.00 170.30,417.00 171.30,417.00 172.30,417.00 173.30,417.00 174.30,417.00 175.30,417.00 176.30,417.00 177.30,417.00 178.30,417.00 179.30,417.00 180.30,417.00 181.30,417.00 182.30,417.00 183.30,417.00 184.30,417.00 185.30,416.99 186.30,416.98 187.30,416.96 188.30,416.94 189.30,416.92 190.30,416.90 191.30,416.88 192.30,416.85 193.30,416.82 194.30,416.80 195.30,416.76 196.30,416.73 197.30,416.69 198.30,416.66 199.30,416.61 200.30,416.57 201.30,416.52 202.30,416.47 203.30,416.42 204.30,416.36 205.30,416.30 206.30,416.23 207.30,416.16 208.30,416.09 209.30,416.01 210.30,415.93 211.30,415.84 212.30,415.74 213.30,415.64 214.30,415.54 215.30,415.43 216.30,415.31 217.30,415.18 218.30,415.05 219.30,414.91 220.30,414.76 221.30,414.60 222.30,414.44 223.30,414.27 224.30,414.09 225.30,413.90 226.30,413.70 227.30,413.49 228.30,413.28 229.30,413.05 230.30,412.82 231.30,412.57 232.30,412.32 233.30,412.06 234.30,411.78 235.30,411.50 236.30,411.21 237.30,410.91 238.30,410.59 239.30,410.27 240.30,409.94 241.30,409.59 242.30,409.24 243.30,408.87 244.30,408.49 245.30,408.11 246.30,407.71 247.30,407.30 248.30,406.88 249.30,406.45 250.30,406.01 251.30,405.55 252.30,405.09 253.30,404.61 254.30,404.13 255.30,403.63 256.30,403.13 257.30,402.61 258.30,402.09 259.30,401.55 260.30,401.01 261.30,400.46 262.30,399.89 263.30,399.32 264.30,398.74 265.30,398.16 266.30,397.56 267.30,396.96 268.30,396.35 269.30,395.73 270.30,395.10 271.30,394.47 272.30,393.84 273.30,393.20 274.30,392.55 275.30,391.90 276.30,391.24 277.30,390.58 278.30,389.92 279.30,389.25 280.30,388.58 281.30,387.90 282.30,387.23 283.30,386.55 284.30,385.87 285.30,385.20 286.30,384.52 287.30,383.84 288.30,383.16 289.30,382.48 290.30,381.80 291.30,381.13 292.30,380.46 293.30,379.78 294.30,379.12 295.30,378.45 296.30,377.79 297.30,377.14 298.30,376.48 299.30,375.84 300.30,375.19 301.30,374.56 302.30,373.93 303.30,373.30 304.30,372.68 305.30,372.07 306.30,371.47 307.30,370.87 308.30,370.28 309.30,369.70 310.30,369.13 311.30,368.56 312.30,368.01 313.30,367.46 314.30,366.92 315.30,366.39 316.30,365.87 317.30,365.36 318.30,364.86 319.30,364.37 320.30,363.88 321.30,363.41 322.30,362.95 323.30,362.50 324.30,362.06 325.30,361.63 326.30,361.21"/>
<path d="M152.5,245.5H334.3V425H152.5Z" fill="none" stroke="#9a9a9a" stroke-width="1.05"/>
<line x1="160.50" y1="425.5" x2="160.50" y2="428" stroke="#8c8c8c" stroke-width="0.9"/>
<text x="160.50" y="437.7" font-size="8.9" text-anchor="middle" fill="#1a1a1a">20</text>
<line x1="215.83" y1="425.5" x2="215.83" y2="428" stroke="#8c8c8c" stroke-width="0.9"/>
<text x="215.83" y="437.7" font-size="8.9" text-anchor="middle" fill="#1a1a1a">40</text>
<line x1="271.17" y1="425.5" x2="271.17" y2="428" stroke="#8c8c8c" stroke-width="0.9"/>
<text x="271.17" y="437.7" font-size="8.9" text-anchor="middle" fill="#1a1a1a">60</text>
<line x1="326.50" y1="425.5" x2="326.50" y2="428" stroke="#8c8c8c" stroke-width="0.9"/>
<text x="326.50" y="437.7" font-size="8.9" text-anchor="middle" fill="#1a1a1a">80</text>
<line x1="149.2" y1="417.00" x2="152.5" y2="417.00" stroke="#a8a8a8" stroke-width="0.9"/>
<text x="146" y="420.00" font-size="8.9" text-anchor="end" fill="#1a1a1a">0</text>
<line x1="149.2" y1="376.12" x2="152.5" y2="376.12" stroke="#a8a8a8" stroke-width="0.9"/>
<text x="146" y="379.12" font-size="8.9" text-anchor="end" fill="#1a1a1a">0.25</text>
<line x1="149.2" y1="335.25" x2="152.5" y2="335.25" stroke="#a8a8a8" stroke-width="0.9"/>
<text x="146" y="338.25" font-size="8.9" text-anchor="end" fill="#1a1a1a">0.50</text>
<line x1="149.2" y1="294.38" x2="152.5" y2="294.38" stroke="#a8a8a8" stroke-width="0.9"/>
<text x="146" y="297.38" font-size="8.9" text-anchor="end" fill="#1a1a1a">0.75</text>
<line x1="149.2" y1="253.50" x2="152.5" y2="253.50" stroke="#a8a8a8" stroke-width="0.9"/>
<text x="146" y="256.50" font-size="8.9" text-anchor="end" fill="#1a1a1a">1.00</text>
<text transform="translate(243.50,241.7) scale(1,1.1)" x="0" y="0" font-size="8.7" text-anchor="middle" fill="#1a1a1a">Breast cancer</text>
<text transform="translate(243.50,451.5) scale(1,1.04)" x="0" y="0" font-size="8.6" text-anchor="middle" fill="#1a1a1a">Age</text>
<text transform="translate(121.80,335.30) rotate(-90) scale(1,1.08)" x="0" y="0" font-size="8.75" text-anchor="middle" fill="#1a1a1a">Cumulative disease rate</text>
<polyline fill="none" stroke="#2a2a8e" stroke-width="1.0" stroke-linejoin="round" stroke-linecap="butt" points="489.50,416.88 490.50,416.86 491.50,416.84 492.50,416.82 493.50,416.80 494.50,416.77 495.50,416.75 496.50,416.72 497.50,416.70 498.50,416.67 499.50,416.64 500.50,416.61 501.50,416.58 502.50,416.55 503.50,416.52 504.50,416.49 505.50,416.45 506.50,416.42 507.50,416.38 508.50,416.34 509.50,416.30 510.50,416.26 511.50,416.22 512.50,416.17 513.50,416.13 514.50,416.08 515.50,416.03 516.50,415.98 517.50,415.93 518.50,415.87 519.50,415.82 520.50,415.76 521.50,415.70 522.50,415.64 523.50,415.57 524.50,415.51 525.50,415.44 526.50,415.37 527.50,415.30 528.50,415.22 529.50,415.14 530.50,415.06 531.50,414.98 532.50,414.90 533.50,414.81 534.50,414.72 535.50,414.63 536.50,414.54 537.50,414.44 538.50,414.34 539.50,414.24 540.50,414.13 541.50,414.03 542.50,413.92 543.50,413.80 544.50,413.69 545.50,413.57 546.50,413.45 547.50,413.33 548.50,413.20 549.50,413.07 550.50,412.94 551.50,412.80 552.50,412.67 553.50,412.53 554.50,412.38 555.50,412.24 556.50,412.09 557.50,411.94 558.50,411.79 559.50,411.63 560.50,411.48 561.50,411.32 562.30,411.19"/>
<polyline fill="none" stroke="#5a84a2" stroke-width="1.0" stroke-linejoin="round" stroke-linecap="butt" points="486.50,416.83 487.50,416.80 488.50,416.77 489.50,416.73 490.50,416.69 491.50,416.66 492.50,416.62 493.50,416.57 494.50,416.53 495.50,416.48 496.50,416.44 497.50,416.39 498.50,416.33 499.50,416.28 500.50,416.22 501.50,416.16 502.50,416.09 503.50,416.03 504.50,415.96 505.50,415.89 506.50,415.81 507.50,415.73 508.50,415.65 509.50,415.56 510.50,415.47 511.50,415.38 512.50,415.28 513.50,415.18 514.50,415.07 515.50,414.96 516.50,414.85 517.50,414.73 518.50,414.61 519.50,414.48 520.50,414.34 521.50,414.21 522.50,414.06 523.50,413.92 524.50,413.76 525.50,413.60 526.50,413.44 527.50,413.27 528.50,413.10 529.50,412.92 530.50,412.73 531.50,412.54 532.50,412.35 533.50,412.15 534.50,411.94 535.50,411.73 536.50,411.52 537.50,411.30 538.50,411.07 539.50,410.84 540.50,410.61 541.50,410.37 542.50,410.13 543.50,409.88 544.50,409.64 545.50,409.38 546.50,409.13 547.50,408.88 548.50,408.62 549.50,408.36 550.50,408.10 551.50,407.84 552.50,407.58 553.50,407.33 554.50,407.07 555.50,406.82 556.50,406.57 557.50,406.32 558.50,406.07 559.50,405.84 560.50,405.60 561.50,405.38 562.30,405.20"/>
<polyline fill="none" stroke="#7a97a3" stroke-width="1.0" stroke-linejoin="round" stroke-linecap="butt" points="471.50,417.00 472.50,417.00 473.50,417.00 474.50,417.00 475.50,417.00 476.50,417.00 477.50,417.00 478.50,417.00 479.50,416.99 480.50,416.96 481.50,416.92 482.50,416.88 483.50,416.84 484.50,416.80 485.50,416.75 486.50,416.70 487.50,416.65 488.50,416.59 489.50,416.53 490.50,416.47 491.50,416.40 492.50,416.33 493.50,416.25 494.50,416.17 495.50,416.08 496.50,415.99 497.50,415.89 498.50,415.78 499.50,415.67 500.50,415.55 501.50,415.43 502.50,415.30 503.50,415.16 504.50,415.01 505.50,414.85 506.50,414.69 507.50,414.51 508.50,414.33 509.50,414.13 510.50,413.92 511.50,413.71 512.50,413.48 513.50,413.24 514.50,412.99 515.50,412.72 516.50,412.44 517.50,412.15 518.50,411.85 519.50,411.53 520.50,411.20 521.50,410.85 522.50,410.49 523.50,410.11 524.50,409.72 525.50,409.31 526.50,408.89 527.50,408.45 528.50,408.00 529.50,407.53 530.50,407.05 531.50,406.56 532.50,406.05 533.50,405.53 534.50,404.99 535.50,404.44 536.50,403.88 537.50,403.32 538.50,402.74 539.50,402.15 540.50,401.56 541.50,400.96 542.50,400.36 543.50,399.75 544.50,399.14 545.50,398.54 546.50,397.94 547.50,397.34 548.50,396.75 549.50,396.17 550.50,395.60 551.50,395.04 552.50,394.50 553.50,393.97 554.50,393.47 555.50,392.99 556.50,392.54 557.50,392.11 558.50,391.72 559.50,391.35 560.50,391.02 561.50,390.73 562.30,390.52"/>
<polyline fill="none" stroke="#f04040" stroke-width="1.05" stroke-linejoin="round" stroke-linecap="butt" points="459.50,416.96 460.50,416.96 461.50,416.96 462.50,416.96 463.50,416.96 464.50,416.96 465.50,416.96 466.50,416.95 467.50,416.93 468.50,416.91 469.50,416.89 470.50,416.87 471.50,416.85 472.50,416.82 473.50,416.79 474.50,416.76 475.50,416.73 476.50,416.69 477.50,416.66 478.50,416.61 479.50,416.57 480.50,416.51 481.50,416.46 482.50,416.39 483.50,416.33 484.50,416.25 485.50,416.17 486.50,416.08 487.50,415.99 488.50,415.88 489.50,415.77 490.50,415.64 491.50,415.51 492.50,415.36 493.50,415.20 494.50,415.02 495.50,414.84 496.50,414.63 497.50,414.41 498.50,414.17 499.50,413.92 500.50,413.64 501.50,413.35 502.50,413.03 503.50,412.69 504.50,412.33 505.50,411.94 506.50,411.54 507.50,411.10 508.50,410.65 509.50,410.17 510.50,409.67 511.50,409.14 512.50,408.60 513.50,408.03 514.50,407.45 515.50,406.84 516.50,406.22 517.50,405.58 518.50,404.92 519.50,404.25 520.50,403.56 521.50,402.85 522.50,402.13 523.50,401.39 524.50,400.64 525.50,399.88 526.50,399.10 527.50,398.31 528.50,397.52 529.50,396.71 530.50,395.90 531.50,395.07 532.50,394.24 533.50,393.40 534.50,392.56 535.50,391.71 536.50,390.85 537.50,389.99 538.50,389.12 539.50,388.26 540.50,387.38 541.50,386.51 542.50,385.63 543.50,384.75 544.50,383.87 545.50,382.98 546.50,382.09 547.50,381.20 548.50,380.30 549.50,379.40 550.50,378.50 551.50,377.59 552.50,376.67 553.50,375.75 554.50,374.82 555.50,373.89 556.50,372.94 557.50,371.99 558.50,371.02 559.50,370.05 560.50,369.05 561.50,368.05 562.20,367.33"/>
<polyline fill="none" stroke="#a82e2e" stroke-width="1.15" stroke-linejoin="round" stroke-linecap="butt" points="396.50,416.99 397.50,416.99 398.50,416.99 399.50,416.99 400.50,416.99 401.50,416.99 402.50,416.99 403.50,416.99 404.50,416.99 405.50,416.99 406.50,416.99 407.50,416.99 408.50,416.99 409.50,416.99 410.50,416.99 411.50,416.99 412.50,416.99 413.50,416.99 414.50,416.99 415.50,416.99 416.50,416.99 417.50,416.99 418.50,416.99 419.50,416.99 420.50,416.99 421.50,416.99 422.50,416.99 423.50,416.99 424.50,416.99 425.50,416.99 426.50,416.99 427.50,416.99 428.50,416.99 429.50,416.99 430.50,416.99 431.50,416.99 432.50,416.99 433.50,416.99 434.50,416.99 435.50,416.99 436.50,416.99 437.50,416.99 438.50,416.99 439.50,416.99 440.50,416.99 441.50,416.99 442.50,416.99 443.50,416.99 444.50,416.99 445.50,416.99 446.50,416.99 447.50,416.99 448.50,416.99 449.50,416.99 450.50,416.98 451.50,416.97 452.50,416.95 453.50,416.94 454.50,416.92 455.50,416.90 456.50,416.89 457.50,416.87 458.50,416.84 459.50,416.82 460.50,416.80 461.50,416.77 462.50,416.75 463.50,416.72 464.50,416.69 465.50,416.65 466.50,416.62 467.50,416.58 468.50,416.54 469.50,416.50 470.50,416.45 471.50,416.41 472.50,416.35 473.50,416.30 474.50,416.24 475.50,416.18 476.50,416.11 477.50,416.04 478.50,415.96 479.50,415.88 480.50,415.79 481.50,415.70 482.50,415.59 483.50,415.48 484.50,415.36 485.50,415.24 486.50,415.10 487.50,414.95 488.50,414.79 489.50,414.62 490.50,414.43 491.50,414.22 492.50,414.00 493.50,413.77 494.50,413.51 495.50,413.23 496.50,412.94 497.50,412.62 498.50,412.27 499.50,411.90 500.50,411.50 501.50,411.07 502.50,410.62 503.50,410.13 504.50,409.61 505.50,409.05 506.50,408.46 507.50,407.83 508.50,407.16 509.50,406.45 510.50,405.70 511.50,404.91 512.50,404.09 513.50,403.22 514.50,402.31 515.50,401.35 516.50,400.36 517.50,399.32 518.50,398.24 519.50,397.12 520.50,395.95 521.50,394.74 522.50,393.48 523.50,392.18 524.50,390.83 525.50,389.44 526.50,388.00 527.50,386.52 528.50,385.00 529.50,383.45 530.50,381.86 531.50,380.25 532.50,378.61 533.50,376.97 534.50,375.32 535.50,373.67 536.50,372.04 537.50,370.43 538.50,368.83 539.50,367.27 540.50,365.73 541.50,364.21 542.50,362.73 543.50,361.28 544.50,359.85 545.50,358.46 546.50,357.10 547.50,355.76 548.50,354.45 549.50,353.17 550.50,351.91 551.50,350.67 552.50,349.44 553.50,348.21 554.50,346.97 555.50,345.69 556.50,344.37 557.50,343.00 558.50,341.55 559.50,340.00 560.50,338.35 561.50,336.56 562.10,335.41"/>
<path d="M388.5,245.5H570.3V425H388.5Z" fill="none" stroke="#9a9a9a" stroke-width="1.05"/>
<line x1="396.50" y1="425.5" x2="396.50" y2="428" stroke="#8c8c8c" stroke-width="0.9"/>
<text x="396.50" y="437.7" font-size="8.9" text-anchor="middle" fill="#1a1a1a">20</text>
<line x1="451.83" y1="425.5" x2="451.83" y2="428" stroke="#8c8c8c" stroke-width="0.9"/>
<text x="451.83" y="437.7" font-size="8.9" text-anchor="middle" fill="#1a1a1a">40</text>
<line x1="507.17" y1="425.5" x2="507.17" y2="428" stroke="#8c8c8c" stroke-width="0.9"/>
<text x="507.17" y="437.7" font-size="8.9" text-anchor="middle" fill="#1a1a1a">60</text>
<line x1="562.50" y1="425.5" x2="562.50" y2="428" stroke="#8c8c8c" stroke-width="0.9"/>
<text x="562.50" y="437.7" font-size="8.9" text-anchor="middle" fill="#1a1a1a">80</text>
<line x1="385.2" y1="417.00" x2="388.5" y2="417.00" stroke="#a8a8a8" stroke-width="0.9"/>
<text x="382" y="420.00" font-size="8.9" text-anchor="end" fill="#1a1a1a">0</text>
<line x1="385.2" y1="376.12" x2="388.5" y2="376.12" stroke="#a8a8a8" stroke-width="0.9"/>
<text x="382" y="379.12" font-size="8.9" text-anchor="end" fill="#1a1a1a">0.25</text>
<line x1="385.2" y1="335.25" x2="388.5" y2="335.25" stroke="#a8a8a8" stroke-width="0.9"/>
<text x="382" y="338.25" font-size="8.9" text-anchor="end" fill="#1a1a1a">0.50</text>
<line x1="385.2" y1="294.38" x2="388.5" y2="294.38" stroke="#a8a8a8" stroke-width="0.9"/>
<text x="382" y="297.38" font-size="8.9" text-anchor="end" fill="#1a1a1a">0.75</text>
<line x1="385.2" y1="253.50" x2="388.5" y2="253.50" stroke="#a8a8a8" stroke-width="0.9"/>
<text x="382" y="256.50" font-size="8.9" text-anchor="end" fill="#1a1a1a">1.00</text>
<text transform="translate(479.50,241.7) scale(1,1.1)" x="0" y="0" font-size="8.7" text-anchor="middle" fill="#1a1a1a">Prostate cancer</text>
<text transform="translate(479.50,451.5) scale(1,1.04)" x="0" y="0" font-size="8.6" text-anchor="middle" fill="#1a1a1a">Age</text>
<text transform="translate(357.80,335.30) rotate(-90) scale(1,1.08)" x="0" y="0" font-size="8.75" text-anchor="middle" fill="#1a1a1a">Cumulative disease rate</text>
<text x="594.6" y="312" font-size="8.8" fill="#1a1a1a">PRS</text>
<line x1="594.6" y1="321.60" x2="603.8" y2="321.60" stroke="#951616" stroke-width="1.4"/>
<text x="607.6" y="324.60" font-size="8.8" fill="#1a1a1a">>97.5</text>
<line x1="594.6" y1="331.55" x2="603.8" y2="331.55" stroke="#cf2222" stroke-width="1.4"/>
<text x="607.6" y="334.55" font-size="8.8" fill="#1a1a1a">80–97.5</text>
<line x1="594.6" y1="341.50" x2="603.8" y2="341.50" stroke="#67858f" stroke-width="1.4"/>
<text x="607.6" y="344.50" font-size="8.8" fill="#1a1a1a">20–80</text>
<line x1="594.6" y1="351.45" x2="603.8" y2="351.45" stroke="#4b7594" stroke-width="1.4"/>
<text x="607.6" y="354.45" font-size="8.8" fill="#1a1a1a">2.5–20</text>
<line x1="594.6" y1="361.40" x2="603.8" y2="361.40" stroke="#1c1c7c" stroke-width="1.4"/>
<text x="607.6" y="364.40" font-size="8.8" fill="#1a1a1a">&lt;2.5</text>
</svg></body></html>
